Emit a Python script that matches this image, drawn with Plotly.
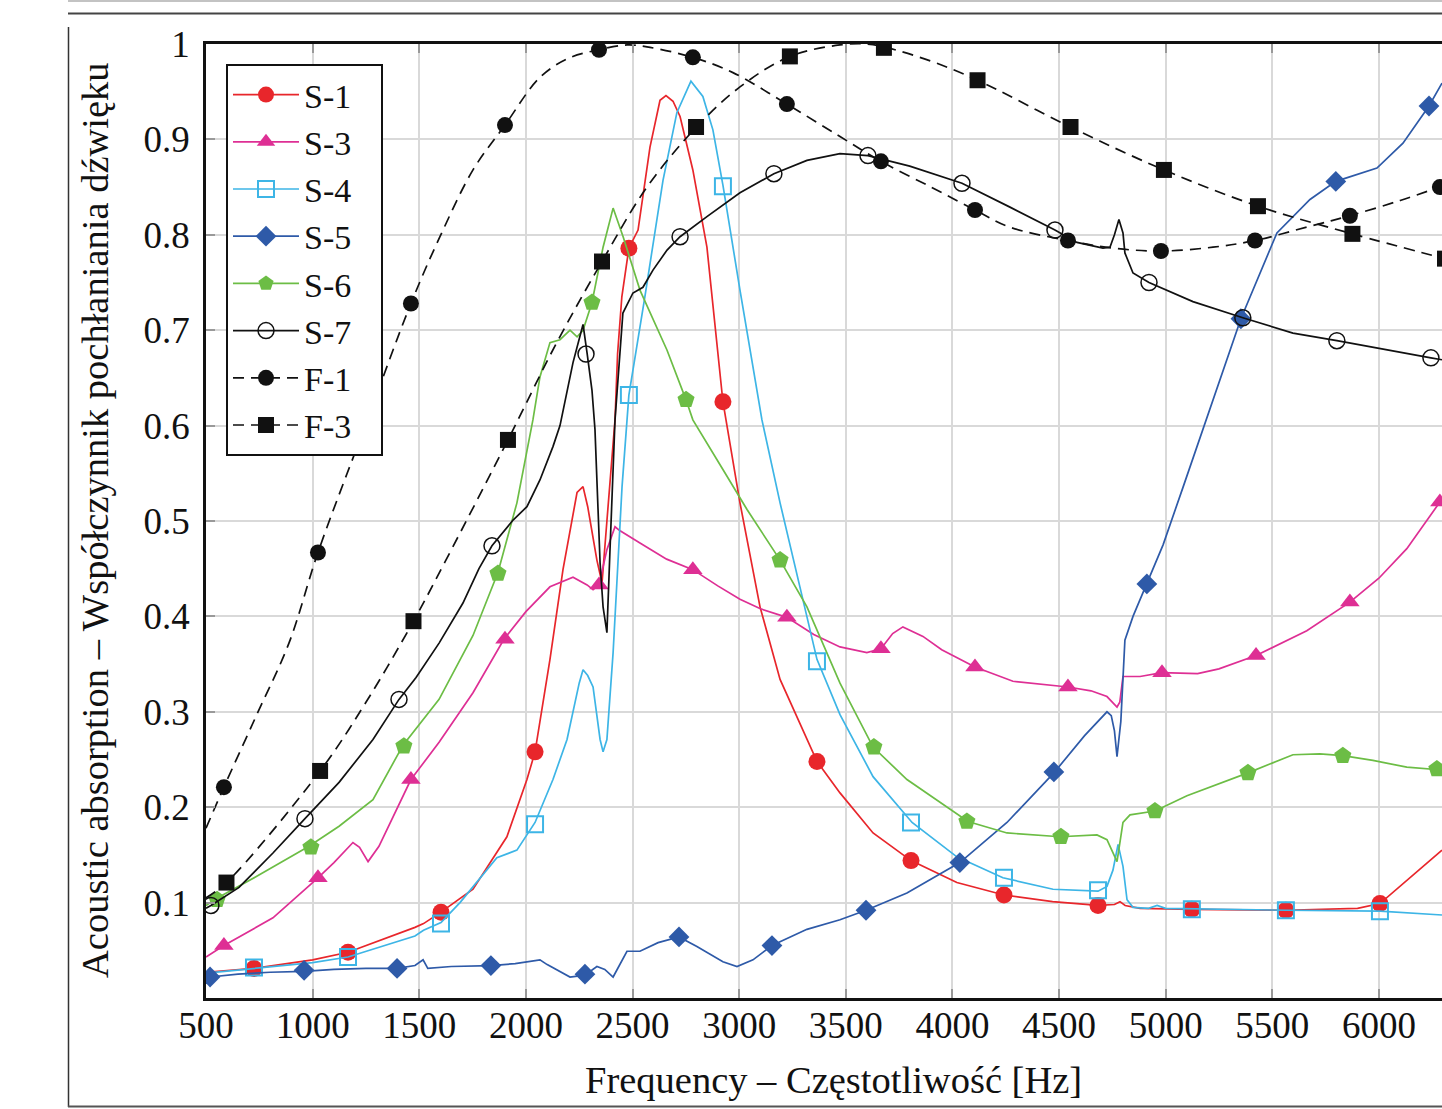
import plotly.graph_objects as go

# ---------------- data ----------------
S1_f = [500, 725, 1000, 1166, 1480, 1520, 1602, 1752, 1911, 2005, 2043, 2113, 2174, 2240, 2268, 2290,
        2333, 2357, 2380, 2418, 2430, 2450, 2483, 2526, 2582, 2629, 2657, 2690, 2723, 2783, 2849, 2924,
        3004, 3098, 3192, 3365, 3473, 3628, 3806, 4021, 4242, 4470, 4683, 4760, 4786, 4810, 4880, 5123,
        5564, 5900, 6005, 6131, 6220, 6296]
S1_v = [0.027, 0.031, 0.040, 0.048, 0.074, 0.078, 0.090, 0.114, 0.169, 0.229, 0.258, 0.355, 0.449, 0.530, 0.536, 0.515,
        0.459, 0.435, 0.500, 0.606, 0.675, 0.735, 0.786, 0.805, 0.892, 0.941, 0.946, 0.940, 0.924, 0.868, 0.787, 0.625,
        0.519, 0.410, 0.334, 0.248, 0.215, 0.173, 0.144, 0.121, 0.108, 0.101, 0.097, 0.098, 0.101, 0.097, 0.094, 0.093,
        0.092, 0.094, 0.099, 0.123, 0.140, 0.155]
S1_mf = [725, 1166, 1602, 2043, 2483, 2924, 3365, 3806, 4242, 4683, 5123, 5564, 6005]
S1_mv = [0.031, 0.048, 0.090, 0.258, 0.786, 0.625, 0.248, 0.144, 0.108, 0.097, 0.093, 0.092, 0.099]

S3_f = [500, 584, 814, 1025, 1100, 1189, 1220, 1260, 1311, 1461, 1593, 1752, 1897, 2000, 2113, 2221, 2287, 2315,
        2343, 2380, 2418, 2440, 2535, 2660, 2783, 2900, 3004, 3100, 3224, 3350, 3473, 3599, 3665, 3720, 3768,
        3862, 3950, 4106, 4284, 4400, 4542, 4650, 4725, 4772, 4785, 4800, 4880, 4983, 5150, 5250, 5424, 5662,
        5864, 6000, 6131, 6296]
S3_v = [0.043, 0.055, 0.084, 0.126, 0.142, 0.163, 0.158, 0.143, 0.159, 0.229, 0.268, 0.320, 0.376, 0.405, 0.431, 0.441, 0.433, 0.428,
        0.433, 0.470, 0.494, 0.490, 0.477, 0.460, 0.449, 0.432, 0.418, 0.408, 0.399, 0.381, 0.368, 0.362, 0.366, 0.382, 0.389,
        0.379, 0.365, 0.347, 0.332, 0.329, 0.326, 0.322, 0.316, 0.305, 0.310, 0.337, 0.337, 0.341, 0.340, 0.345, 0.359, 0.385,
        0.415, 0.440, 0.471, 0.523]
S3_mf = [584, 1025, 1461, 1902, 2343, 2783, 3224, 3665, 4106, 4542, 4983, 5424, 5864, 6286]
S3_mv = [0.055, 0.126, 0.229, 0.376, 0.433, 0.449, 0.399, 0.366, 0.347, 0.326, 0.341, 0.359, 0.415, 0.520]

S4_f = [500, 725, 1000, 1166, 1480, 1520, 1602, 1691, 1864, 1958, 2043, 2127, 2193, 2250, 2268, 2290, 2315, 2348,
        2362, 2380, 2409, 2451, 2483, 2558, 2643, 2708, 2774, 2830, 2877, 2924, 3004, 3107, 3192, 3285, 3365,
        3473, 3628, 3811, 4021, 4237, 4472, 4683, 4725, 4753, 4777, 4800, 4819, 4847, 4920, 4960, 5000, 5564,
        6005, 6296]
S4_v = [0.026, 0.031, 0.037, 0.043, 0.065, 0.071, 0.079, 0.100, 0.147, 0.155, 0.184, 0.229, 0.271, 0.330, 0.344, 0.338, 0.326, 0.271,
        0.258, 0.271, 0.362, 0.536, 0.632, 0.735, 0.857, 0.928, 0.961, 0.945, 0.910, 0.852, 0.742, 0.606, 0.519, 0.431, 0.355,
        0.297, 0.232, 0.184, 0.148, 0.126, 0.114, 0.112, 0.117, 0.134, 0.161, 0.138, 0.103, 0.095, 0.094, 0.097, 0.094, 0.092,
        0.091, 0.087]
S4_mf = [725, 1166, 1602, 2043, 2483, 2924, 3365, 3806, 4242, 4683, 5123, 5564, 6005]
S4_mv = [0.032, 0.043, 0.078, 0.182, 0.632, 0.851, 0.353, 0.184, 0.126, 0.113, 0.093, 0.092, 0.091]

S5_f = [500, 519, 650, 800, 960, 1100, 1250, 1396, 1480, 1518, 1540, 1650, 1836, 1950, 2066, 2100, 2207, 2277,
        2333, 2370, 2409, 2474, 2535, 2620, 2718, 2802, 2924, 2990, 3065, 3154, 3318, 3473, 3595, 3787, 4035,
        4256, 4476, 4620, 4725, 4745, 4760, 4772, 4790, 4809, 4847, 4912, 4988, 5081, 5222, 5353, 5522, 5677,
        5798, 5991, 6113, 6235, 6296]
S5_v = [0.021, 0.022, 0.025, 0.027, 0.028, 0.030, 0.031, 0.031, 0.034, 0.040, 0.031, 0.033, 0.034, 0.036, 0.040, 0.035, 0.022, 0.024,
        0.033, 0.030, 0.022, 0.049, 0.049, 0.058, 0.064, 0.054, 0.038, 0.033, 0.040, 0.055, 0.072, 0.082, 0.092, 0.110, 0.142,
        0.184, 0.236, 0.275, 0.300, 0.296, 0.280, 0.253, 0.290, 0.375, 0.400, 0.434, 0.475, 0.535, 0.627, 0.712, 0.802, 0.837,
        0.856, 0.870, 0.896, 0.935, 0.959]
S5_mf = [519, 960, 1396, 1836, 2277, 2718, 3154, 3595, 4035, 4476, 4912, 5353, 5798, 6235]
S5_mv = [0.022, 0.029, 0.031, 0.034, 0.025, 0.064, 0.055, 0.092, 0.142, 0.237, 0.434, 0.712, 0.856, 0.935]

S6_f = [500, 547, 734, 983, 1124, 1283, 1424, 1593, 1752, 1869, 1958, 2033, 2066, 2113, 2160, 2207, 2240, 2268,
        2310, 2362, 2409, 2456, 2535, 2662, 2751, 2783, 2924, 3037, 3192, 3318, 3473, 3628, 3787, 4073, 4256,
        4505, 4678, 4725, 4772, 4800, 4833, 4950, 5100, 5386, 5597, 5723, 5831, 5972, 6131, 6296]
S6_v = [0.097, 0.104, 0.127, 0.159, 0.180, 0.208, 0.265, 0.313, 0.380, 0.446, 0.519, 0.606, 0.651, 0.687, 0.690, 0.700, 0.693, 0.700,
        0.729, 0.787, 0.828, 0.798, 0.742, 0.679, 0.627, 0.606, 0.554, 0.512, 0.459, 0.410, 0.330, 0.263, 0.229, 0.185, 0.173,
        0.169, 0.171, 0.166, 0.143, 0.184, 0.192, 0.196, 0.212, 0.236, 0.255, 0.256, 0.254, 0.249, 0.242, 0.239]
S6_mf = [552, 992, 1428, 1869, 2310, 2751, 3192, 3632, 4068, 4509, 4950, 5386, 5831, 6272]
S6_mv = [0.103, 0.158, 0.264, 0.445, 0.729, 0.627, 0.459, 0.263, 0.185, 0.169, 0.196, 0.236, 0.254, 0.240]

S7_f = [500, 523, 655, 814, 964, 1124, 1283, 1405, 1485, 1593, 1705, 1780, 1841, 1940, 2005, 2066, 2127, 2160,
        2221, 2268, 2287, 2310, 2324, 2348, 2362, 2380, 2394, 2418, 2455, 2502, 2549, 2596, 2662, 2723, 2849,
        3004, 3163, 3318, 3473, 3604, 3800, 4045, 4270, 4481, 4584, 4706, 4739, 4760, 4781, 4800, 4809, 4847,
        4922, 5128, 5362, 5597, 5803, 5991, 6244, 6296]
S7_v = [0.094, 0.097, 0.116, 0.152, 0.188, 0.226, 0.271, 0.313, 0.336, 0.372, 0.414, 0.450, 0.474, 0.501, 0.515, 0.543, 0.578, 0.600,
        0.666, 0.706, 0.676, 0.637, 0.596, 0.456, 0.410, 0.383, 0.467, 0.606, 0.718, 0.739, 0.745, 0.763, 0.784, 0.798, 0.819,
        0.844, 0.864, 0.878, 0.885, 0.883, 0.872, 0.854, 0.829, 0.805, 0.792, 0.786, 0.787, 0.800, 0.816, 0.802, 0.781, 0.760,
        0.750, 0.730, 0.713, 0.697, 0.689, 0.681, 0.671, 0.669]
S7_mf = [523, 964, 1405, 1841, 2282, 2723, 3163, 3604, 4045, 4481, 4922, 5362, 5803, 6244]
S7_mv = [0.097, 0.188, 0.313, 0.474, 0.675, 0.798, 0.864, 0.883, 0.854, 0.805, 0.750, 0.713, 0.689, 0.671]

F1_f = [500, 584, 734, 889, 1025, 1250, 1461, 1597, 1752, 1902, 2066, 2200, 2343, 2474, 2568, 2783, 2971, 3224,
        3473, 3665, 3900, 4106, 4270, 4542, 4753, 4978, 5222, 5419, 5677, 5864, 6100, 6296]
F1_v = [0.178, 0.221, 0.295, 0.372, 0.467, 0.602, 0.728, 0.798, 0.868, 0.915, 0.965, 0.985, 0.994, 0.999, 0.997, 0.986, 0.970, 0.937,
        0.903, 0.877, 0.850, 0.826, 0.808, 0.794, 0.786, 0.783, 0.787, 0.794, 0.809, 0.820, 0.836, 0.851]
F1_mf = [584, 1025, 1461, 1902, 2343, 2783, 3224, 3665, 4106, 4542, 4978, 5419, 5864, 6286]
F1_mv = [0.221, 0.467, 0.728, 0.915, 0.994, 0.986, 0.937, 0.877, 0.826, 0.794, 0.783, 0.794, 0.820, 0.850]

F3_f = [500, 596, 1035, 1250, 1473, 1625, 1916, 2140, 2357, 2568, 2800, 3004, 3238, 3473, 3600, 3679, 3900, 4118,
        4554, 4992, 5433, 5876, 6310]
F3_v = [0.105, 0.121, 0.238, 0.310, 0.395, 0.459, 0.585, 0.685, 0.772, 0.850, 0.913, 0.955, 0.987, 0.999, 1.000, 0.997, 0.982, 0.962,
        0.913, 0.868, 0.830, 0.801, 0.775]
F3_mf = [596, 1035, 1473, 1916, 2357, 2798, 3238, 3679, 4118, 4554, 4992, 5433, 5876, 6310]
F3_mv = [0.121, 0.238, 0.395, 0.585, 0.772, 0.913, 0.987, 0.996, 0.962, 0.913, 0.868, 0.830, 0.801, 0.775]

X_TICKS = [500, 1000, 1500, 2000, 2500, 3000, 3500, 4000, 4500, 5000, 5500, 6000]
Y_TICKS = [0.1, 0.2, 0.3, 0.4, 0.5, 0.6, 0.7, 0.8, 0.9, 1.0]
Y_TICK_TEXT = ["0.1", "0.2", "0.3", "0.4", "0.5", "0.6", "0.7", "0.8", "0.9", "1"]

# ---------------- styling ----------------
FONT = "Liberation Serif"
W, H = 1442, 1109
L, T, B, R = 206, 44, 111, 0
PW, PH = W - L - R, H - T - B
PAD = "\u00a0\u00a0\u2009"  # trailing space to widen the legend box


def px(x):
    return (x - L) / PW


def py(y):
    return (H - B - y) / PH


series = [
    ("S-1", S1_f, S1_v, S1_mf, S1_mv, "#e8262b", "solid", dict(symbol="circle", size=17, color="#e8262b")),
    ("S-3", S3_f, S3_v, S3_mf, S3_mv, "#de2f94", "solid", dict(symbol="triangle-up", size=17, color="#de2f94")),
    ("S-4", S4_f, S4_v, S4_mf, S4_mv, "#3db5e6", "solid",
     dict(symbol="square-open", size=16, color="#3db5e6", line=dict(width=2, color="#3db5e6"))),
    ("S-5", S5_f, S5_v, S5_mf, S5_mv, "#2e5aa8", "solid", dict(symbol="diamond", size=16, color="#2e5aa8")),
    ("S-6", S6_f, S6_v, S6_mf, S6_mv, "#6cbd45", "solid", dict(symbol="pentagon", size=18, color="#6cbd45")),
    ("S-7", S7_f, S7_v, S7_mf, S7_mv, "#111111", "solid",
     dict(symbol="circle-open", size=16, color="#111111", line=dict(width=1.5, color="#111111"))),
    ("F-1", F1_f, F1_v, F1_mf, F1_mv, "#111111", "11px,7px", dict(symbol="circle", size=16, color="#111111")),
    ("F-3", F3_f, F3_v, F3_mf, F3_mv, "#111111", "11px,7px", dict(symbol="square", size=16, color="#111111")),
]

fig = go.Figure()
for name, f, v, mf, mv, col, dash, mk in series:
    shape = "spline" if name.startswith("F") else "linear"
    fig.add_trace(go.Scatter(x=f, y=v, mode="lines", line=dict(color=col, width=1.7, dash=dash, shape=shape),
                             showlegend=False, hoverinfo="skip"))
    fig.add_trace(go.Scatter(x=mf, y=mv, mode="markers", marker=mk, showlegend=False))
for name, f, v, mf, mv, col, dash, mk in series:
    fig.add_trace(go.Scatter(x=[None], y=[None], mode="lines+markers", name=name + PAD,
                             line=dict(color=col, width=1.7, dash=dash), marker=mk))

shapes = [
    dict(type="line", xref="paper", yref="paper", x0=px(68), x1=px(1442), y0=py(1), y1=py(1),
         line=dict(color="#888888", width=1.2)),
    dict(type="line", xref="paper", yref="paper", x0=px(68), x1=px(1442), y0=py(13.5), y1=py(13.5),
         line=dict(color="#444444", width=2)),
    dict(type="line", xref="paper", yref="paper", x0=px(68.5), x1=px(68.5), y0=py(27), y1=py(1107),
         line=dict(color="#333333", width=1.5)),
    dict(type="line", xref="paper", yref="paper", x0=px(68), x1=px(1442), y0=py(1106.5), y1=py(1106.5),
         line=dict(color="#555555", width=2)),
]

annotations = [
    dict(text="Acoustic absorption – Współczynnik pochłaniania dźwięku", textangle=-90,
         xref="paper", yref="paper", x=px(95), y=py(520), xanchor="center", yanchor="middle",
         showarrow=False, font=dict(family=FONT, size=38.5, color="#111111")),
    dict(text="Frequency – Częstotliwość [Hz]",
         xref="paper", yref="paper", x=px(833), y=py(1080), xanchor="center", yanchor="middle",
         showarrow=False, font=dict(family=FONT, size=38.5, color="#111111")),
]

fig.update_layout(
    width=W, height=H,
    margin=dict(l=L, r=R, t=T, b=B, pad=0),
    paper_bgcolor="white", plot_bgcolor="white",
    font=dict(family=FONT, size=36, color="#111111"),
    shapes=shapes, annotations=annotations,
    legend=dict(x=px(226), y=py(64), xanchor="left", yanchor="top",
                bgcolor="white", bordercolor="#111111", borderwidth=2,
                font=dict(family=FONT, size=34, color="#111111"),
                itemwidth=66, tracegroupgap=0),
)
fig.update_xaxes(range=[500, 6296], tickvals=X_TICKS, ticktext=[str(t) for t in X_TICKS],
                 showgrid=True, gridcolor="#d9d9d9", gridwidth=1.5, zeroline=False,
                 showline=True, linecolor="#111111", linewidth=2.5, mirror="ticks",
                 ticks="inside", ticklen=9, tickwidth=1.5, tickcolor="#999999", ticklabelstandoff=-7,
                 tickfont=dict(family=FONT, size=37, color="#111111"))
fig.update_yaxes(range=[0, 1], tickvals=Y_TICKS, ticktext=Y_TICK_TEXT,
                 showgrid=True, gridcolor="#d9d9d9", gridwidth=1.5, zeroline=False,
                 showline=True, linecolor="#111111", linewidth=2.5, mirror=False,
                 ticks="inside", ticklen=9, tickwidth=1.5, tickcolor="#999999", ticklabelstandoff=6,
                 tickfont=dict(family=FONT, size=37, color="#111111"))

fig.write_html("out.html")
